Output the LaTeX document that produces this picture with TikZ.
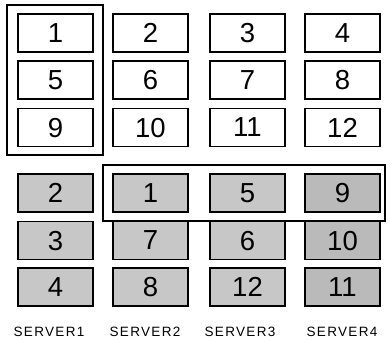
\documentclass[tikz,border=0pt]{standalone}
\usepackage{fontspec}
\setmainfont{Liberation Sans}
\newfontfamily\lblfont[LetterSpace=10]{Liberation Sans}
\begin{document}
\begin{tikzpicture}[x=1pt,y=-1pt,
  cell/.style={draw=black, line width=1.2pt, minimum width=75pt, minimum height=38pt, inner sep=0pt,
    font=\fontsize{27.5}{27.5}\selectfont, text depth=0pt},
  topcell/.style={cell, fill=white},
  grey/.style={cell, fill=black!22},
  darkgrey/.style={cell, fill=black!27},
  frame/.style={draw=black, line width=1.8pt},
  lbl/.style={font=\lblfont\fontsize{13.5}{13.5}\selectfont, inner sep=0pt}]
\useasboundingbox (0,0) rectangle (390,341);
% top grid
\node[topcell] (t1) at (55.5,33) {1};
\node[topcell] (t2) at (150.5,33) {2};
\node[topcell] (t3) at (247.5,33) {3};
\node[topcell] (t4) at (342.5,33) {4};
\node[topcell] (t5) at (55.5,80) {5};
\node[topcell] (t6) at (150.5,80) {6};
\node[topcell] (t7) at (247.5,80) {7};
\node[topcell] (t8) at (342.5,80) {8};
\node[topcell] (t9) at (55.5,127.5) {9};
\node[topcell] (t10) at (150.5,127.5) {10};
\node[topcell] (t11) at (247.5,127.5) {11};
\node[topcell] (t12) at (342.5,127.5) {12};
\draw[frame] (7,5) rectangle (103,155);
% bottom grid
\node[grey] (s1a) at (55.5,193) {2};
\node[grey] (s2a) at (150.5,193) {1};
\node[grey] (s3a) at (247.5,193) {5};
\node[darkgrey] (s4a) at (342.5,193) {9};
\node[grey] (s1b) at (55.5,240.5) {3};
\node[grey] (s2b) at (150.5,240.5) {7};
\node[grey] (s3b) at (247.5,240.5) {6};
\node[darkgrey] (s4b) at (342.5,240.5) {10};
\node[grey] (s1c) at (55.5,287) {4};
\node[grey] (s2c) at (150.5,287) {8};
\node[grey] (s3c) at (247.5,287) {12};
\node[darkgrey] (s4c) at (342.5,287) {11};
\draw[frame] (103,165) rectangle (385,221);
% labels
\node[lbl] (l1) at (49,332) {SERVER1};
\node[lbl] (l2) at (145,332) {SERVER2};
\node[lbl] (l3) at (240,332) {SERVER3};
\node[lbl] (l4) at (342,332) {SERVER4};
\end{tikzpicture}
\end{document}
